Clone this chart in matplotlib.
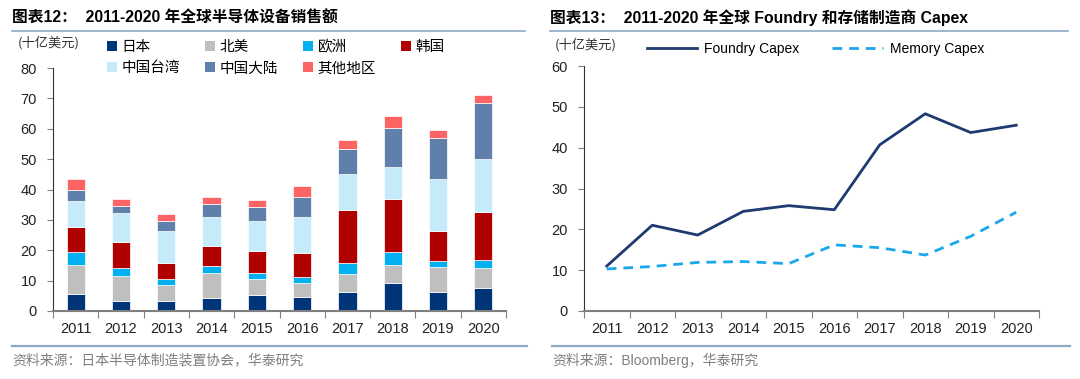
import matplotlib
matplotlib.use("Agg")
import matplotlib.pyplot as plt
from matplotlib.lines import Line2D
from matplotlib.patches import Patch
import numpy as np

plt.rcParams['font.family'] = ['Liberation Sans', 'Noto Sans CJK SC', 'DejaVu Sans']

years = ['2011', '2012', '2013', '2014', '2015', '2016', '2017', '2018', '2019', '2020']
regions = ['日本', '北美', '欧洲', '韩国', '中国台湾', '中国大陆', '其他地区']
japan = [5.7, 3.4, 3.4, 4.2, 5.4, 4.5, 6.4, 9.2, 6.1, 7.5]
north_america = [9.3, 8.1, 5.1, 8.2, 5.2, 4.6, 5.7, 6.0, 8.3, 6.6]
europe = [4.3, 2.5, 2.1, 2.3, 1.9, 2.1, 3.6, 4.2, 2.1, 2.6]
korea = [8.5, 8.7, 5.1, 6.7, 7.3, 7.8, 17.7, 17.6, 10.0, 16.0]
taiwan = [8.5, 9.5, 10.6, 9.5, 9.8, 12.1, 11.6, 10.3, 17.1, 17.2]
china = [3.7, 2.5, 3.3, 4.3, 4.7, 6.5, 8.3, 13.0, 13.5, 18.6]
others = [3.6, 2.2, 2.2, 2.4, 2.1, 3.5, 3.1, 4.0, 2.5, 2.5]

foundry_capex = [11.0, 21.0, 18.6, 24.4, 25.8, 24.8, 40.7, 48.3, 43.7, 45.5]
memory_capex = [10.3, 10.9, 11.9, 12.1, 11.6, 16.2, 15.5, 13.7, 18.3, 24.2]

colors = ['#003478', '#BFBFBF', '#00B0F0', '#B00000', '#C5EBFA', '#5F80AA', '#FF6464']
series = [japan, north_america, europe, korea, taiwan, china, others]

fig = plt.figure(figsize=(10.8, 3.79), dpi=100)
W, H = 1080, 379

def fx(px):
    return px / W

def fy(py):
    return 1 - py / H

spine_color = '#808080'
tick_family = ['Liberation Sans']
tick_size = 10.5

def style_axes(ax):
    ax.set_xlim(-0.5, len(years) - 0.5)
    xs = np.arange(len(years))
    ax.set_xticks(np.arange(-0.5, len(years), 1.0))
    ax.set_xticklabels([])
    ax.set_xticks(xs, minor=True)
    ax.set_xticklabels(years, minor=True)
    ax.tick_params(axis='x', which='minor', length=0, pad=8)
    ax.tick_params(axis='x', which='major', length=5, direction='out', color=spine_color)
    ax.tick_params(axis='y', length=4, direction='out', color=spine_color, pad=7.5)
    for lbl in ax.get_xticklabels(minor=True) + ax.get_yticklabels():
        lbl.set_fontfamily(tick_family)
        lbl.set_fontsize(tick_size)
        lbl.set_color('#222222')
    for s in ['top', 'right']:
        ax.spines[s].set_visible(False)
    ax.spines['left'].set_color('#333333')
    ax.spines['bottom'].set_color(spine_color)
    ax.spines['bottom'].set_linewidth(1.5)

# ---------------- Left chart ----------------
ax1 = fig.add_axes([fx(53), fy(311), fx(506 - 53), (311 - 68) / H])
x = np.arange(len(years))
bottom = np.zeros(len(years))
for vals, c, lab in zip(series, colors, regions):
    ax1.bar(x, vals, width=0.4, bottom=bottom, color=c, edgecolor='white', linewidth=0.5, label=lab)
    bottom += np.array(vals)
ax1.set_ylim(0, 80)
ax1.set_yticks(np.arange(0, 81, 10))
style_axes(ax1)

# legend filled column-wise by matplotlib; reorder so rows read as in the reference
order = [0, 4, 1, 5, 2, 6, 3]
handles = [Patch(facecolor=colors[i], edgecolor='none') for i in order]
labels = [regions[i] for i in order]
fig.legend(handles, labels, loc='upper left', bbox_to_anchor=(fx(94), fy(27)), ncol=4,
           frameon=False, handlelength=0.7, handleheight=0.7, handletextpad=0.3,
           columnspacing=1.7, labelspacing=0.5,
           prop={'family': ['Noto Sans CJK SC'], 'size': 10.5})

fig.text(fx(18), fy(43), '(十亿美元)', fontsize=9.5, family=['Noto Sans CJK SC'], va='center', color='#333333')
fig.text(fx(12), fy(18), '图表12：  2011-2020 年全球半导体设备销售额', fontsize=11.3, fontweight='bold',
         family=['Liberation Sans', 'Noto Sans CJK SC'], va='center')

# ---------------- Right chart ----------------
ax2 = fig.add_axes([fx(584), fy(311), fx(1039 - 584), (311 - 66) / H])
ax2.plot(x, foundry_capex, color='#1F3A70', linewidth=2.0, label='Foundry Capex')
ax2.plot(x, memory_capex, color='#1AA7EC', linewidth=2.0, linestyle=(0, (3.5, 2.5)), label='Memory Capex')
ax2.set_ylim(0, 60)
ax2.set_yticks(np.arange(0, 61, 10))
style_axes(ax2)

fig.legend(loc='upper left', handles=ax2.get_lines(), bbox_to_anchor=(fx(634), fy(29)), ncol=2,
           frameon=False, handlelength=3.67, handletextpad=0.5, columnspacing=2.3,
           prop={'family': ['Liberation Sans'], 'size': 10})

fig.text(fx(555), fy(45), '(十亿美元)', fontsize=9.5, family=['Noto Sans CJK SC'], va='center', color='#333333')
fig.text(fx(550), fy(18), '图表13：  2011-2020 年全球 Foundry 和存储制造商 Capex', fontsize=11.3, fontweight='bold',
         family=['Liberation Sans', 'Noto Sans CJK SC'], va='center')

# ---------------- Decorative rules & sources ----------------
rule_color = '#8EA9C8'
for (x0, x1) in [(12, 525), (550, 1068)]:
    fig.add_artist(Line2D([fx(x0), fx(x1)], [fy(31), fy(31)], color=rule_color, linewidth=1.2))
for (x0, x1) in [(12, 527), (552, 1070)]:
    fig.add_artist(Line2D([fx(x0), fx(x1)], [fy(346), fy(346)], color=rule_color, linewidth=1.6))

fig.text(fx(12), fy(360), '资料来源：日本半导体制造装置协会，华泰研究', fontsize=10, color='#7F7F7F',
         family=['Noto Sans CJK SC'], va='center')
fig.text(fx(552), fy(360), '资料来源：Bloomberg，华泰研究', fontsize=10, color='#7F7F7F',
         family=['Liberation Sans', 'Noto Sans CJK SC'], va='center')

fig.savefig('out.png', dpi=100)
